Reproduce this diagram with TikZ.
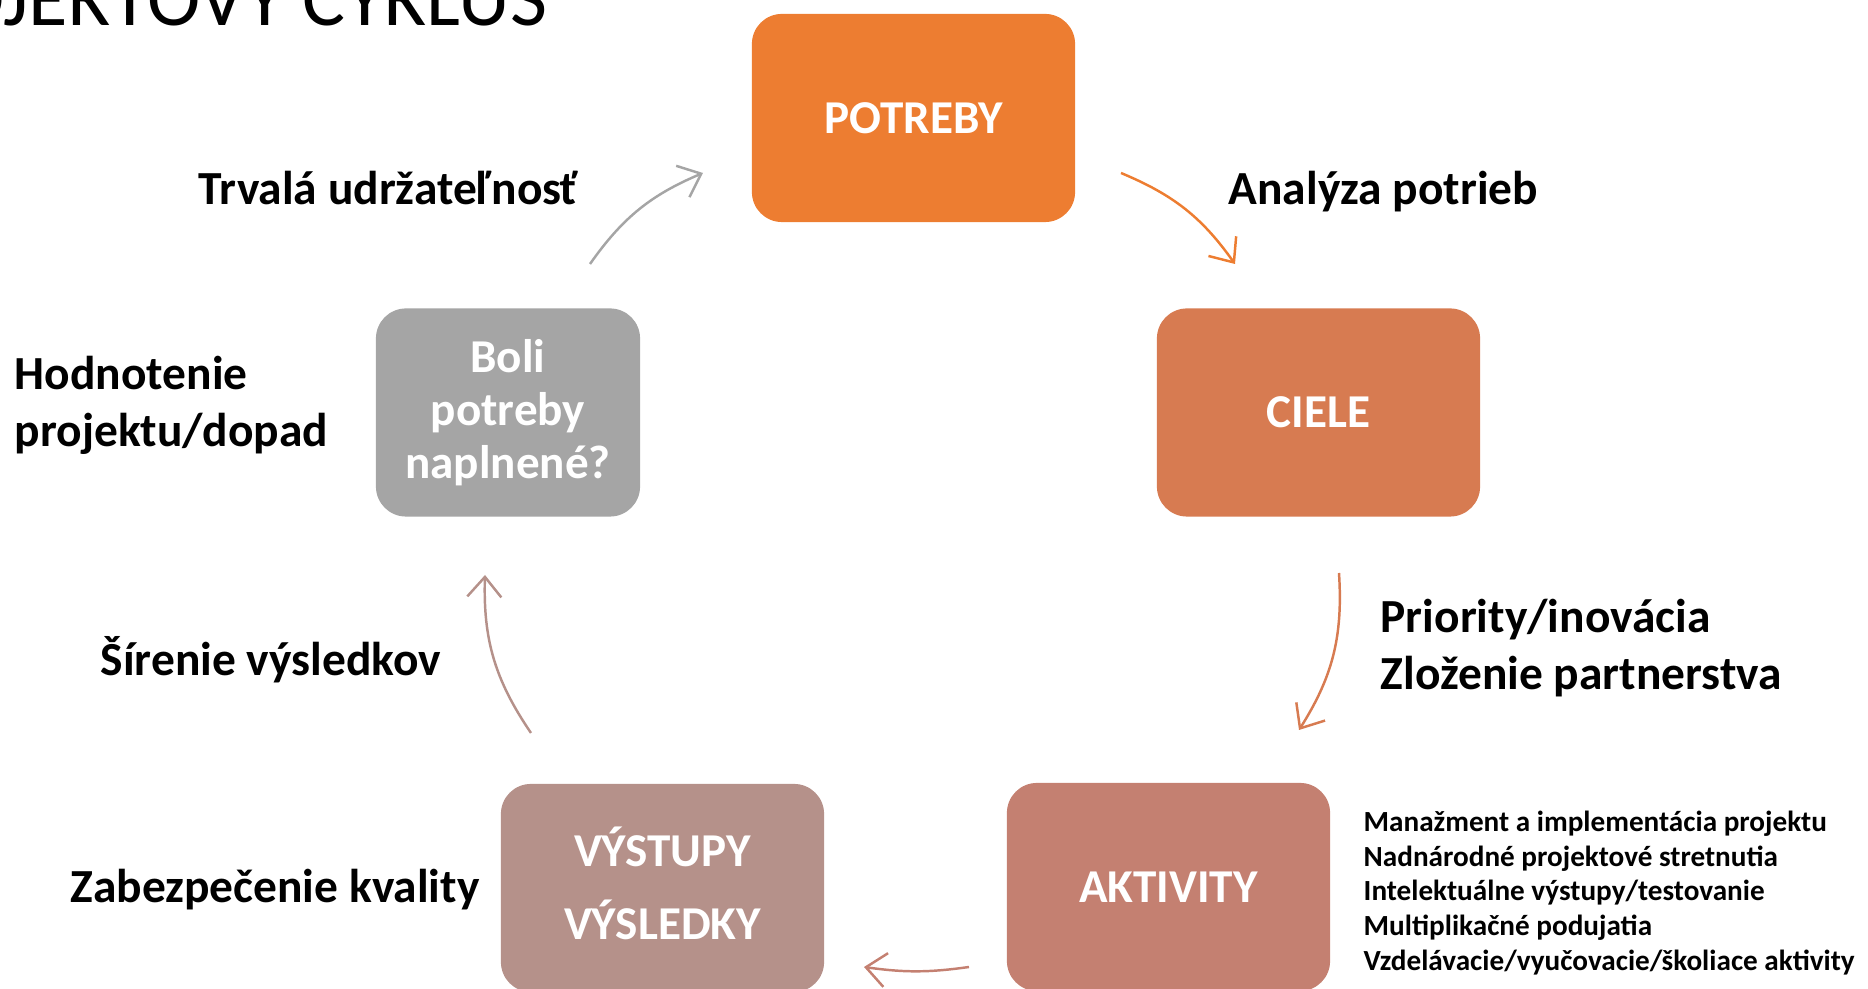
\documentclass[tikz,border=0pt]{standalone}
\usepackage{fontspec}
\setmainfont{Carlito}
\usetikzlibrary{arrows.meta}
\definecolor{cPotreby}{HTML}{ED7D31}
\definecolor{cCiele}{HTML}{D77B51}
\definecolor{cAktivity}{HTML}{C48071}
\definecolor{cVystupy}{HTML}{B5918A}
\definecolor{cBoli}{HTML}{A5A5A5}
\begin{document}
\begin{tikzpicture}[x=0.01cm,y=-0.01cm]
    \tikzstyle{every node}=[inner sep=0pt]
    \tikzstyle{box}=[rectangle,rounded corners=0.3cm,minimum width=3.23cm,minimum height=2.08cm,text=white,align=center,font=\fontsize{13.4}{15.1}\selectfont\bfseries]
    \tikzstyle{lbl}=[align=left,font=\fontsize{13.5}{16.2}\selectfont\bfseries]
    \tikzstyle{cyc}=[line width=0.7pt,-{Straight Barb[length=2mm,width=3.4mm]}]
    \useasboundingbox (0,0) rectangle (1868,989);
    \clip (0,0) rectangle (1868,989);
    \draw (548,26) node[anchor=base east,font=\fontsize{22.9}{24}\selectfont] (titul) {PROJEKTOVÝ CYKLUS};
    %%%%% boxes
    \draw (913.5,118) node[box,fill=cPotreby] (potreby) {POTREBY};
    \draw (1318.5,412.5) node[box,fill=cCiele] (ciele) {CIELE};
    \draw (1168.5,887) node[box,fill=cAktivity] (aktivity) {AKTIVITY};
    \draw (662.5,888) node[box,fill=cVystupy,font=\fontsize{13.4}{20.8}\selectfont\bfseries] (vystupy) {VÝSTUPY\\VÝSLEDKY\rule[-2.8pt]{0pt}{0pt}};
    \draw (508,412.5) node[box,fill=cBoli,minimum width=2.64cm] (boli) {Boli\\potreby\\naplnené?};
    %%%%% labels
    \draw (198,205) node[lbl,anchor=base west] (trvala) {Trvalá udržateľnosť};
    \draw (1228,205) node[lbl,anchor=base west] (analyza) {Analýza potrieb};
    \draw (14,405) node[lbl,anchor=west] (hodnotenie) {Hodnotenie\\projektu/dopad};
    \draw (1380,648) node[lbl,anchor=west] (priority) {Priority/inovácia\\Zloženie partnerstva};
    \draw (100,676) node[lbl,anchor=base west] (sirenie) {Šírenie výsledkov};
    \draw (70,903) node[lbl,anchor=base west] (kvalita) {Zabezpečenie kvality};
    \draw (1363,893) node[anchor=west,align=left,font=\fontsize{8.3}{9.9}\selectfont\bfseries] (zoznam) {Manažment a implementácia projektu\\Nadnárodné projektové stretnutia\\Intelektuálne výstupy/testovanie\\Multiplikačné podujatia\\Vzdelávacie/vyučovacie/školiace aktivity};
    %%%%% arrows
    \coordinate (a1s) at (590,264);
    \coordinate (a1e) at (703,173);
    \coordinate (a2s) at (1121,173);
    \coordinate (a2e) at (1235,264);
    \coordinate (a3s) at (1339,573);
    \coordinate (a3e) at (1299,730);
    \coordinate (a4s) at (969,967);
    \coordinate (a4e) at (864,967);
    \coordinate (a5s) at (531,733);
    \coordinate (a5e) at (485,575);
    \draw[cyc,cBoli] (a1s) to[bend left=16] (a1e);
    \draw[cyc,cPotreby] (a2s) to[bend left=16] (a2e);
    \draw[cyc,cCiele] (a3s) to[bend left=18] (a3e);
    \draw[cyc,cAktivity] (a4s) to[bend left=8] (a4e);
    \draw[cyc,cVystupy] (a5s) to[bend left=18] (a5e);
\end{tikzpicture}
\end{document}
